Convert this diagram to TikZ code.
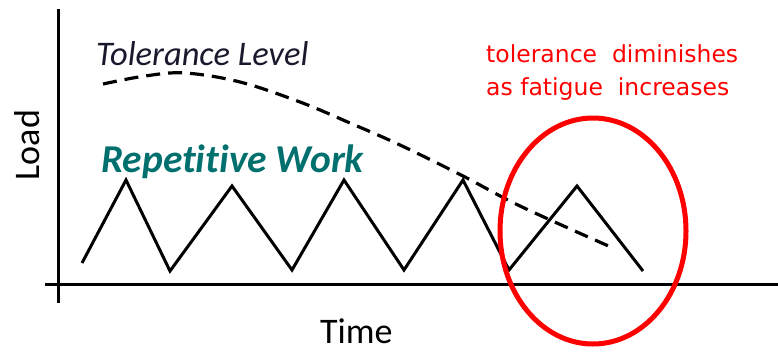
\documentclass[tikz,border=0pt]{standalone}
\usepackage{fontspec}
\usetikzlibrary{shapes.geometric}
\setmainfont{Carlito}[Ligatures={NoCommon,NoRare,NoDiscretionary}]
\newfontfamily\redfont{DejaVu Sans}
\definecolor{teal2}{RGB}{0,112,110}
\definecolor{navy2}{RGB}{25,25,45}
\definecolor{red2}{RGB}{255,0,0}
\begin{document}
\begin{tikzpicture}[x=1pt,y=-1pt,
  axis/.style={line width=3pt},
  zig/.style={line width=3pt,line join=miter},
  tol/.style={line width=3.2pt,dash pattern=on 14pt off 8pt},
  lbl/.style={inner sep=0pt,anchor=base west}]
\useasboundingbox (0,0) rectangle (778,351);
% axes
\coordinate (ytop) at (58,9);
\coordinate (ybot) at (58,303);
\coordinate (xl) at (45,284);
\coordinate (xr) at (778,284);
\draw[axis] (ytop) -- (ybot);
\draw[axis] (xl) -- (xr);
% zigzag
\coordinate (z0) at (82,263);
\coordinate (z1) at (126,180);
\coordinate (z2) at (170,271);
\coordinate (z3) at (232,186);
\coordinate (z4) at (292,270);
\coordinate (z5) at (344,180);
\coordinate (z6) at (404,270);
\coordinate (z7) at (463,180);
\coordinate (z8) at (509,270);
\coordinate (z9) at (577,186);
\coordinate (z10) at (643,271);
\draw[zig] (z0)--(z1)--(z2)--(z3)--(z4)--(z5)--(z6)--(z7)--(z8)--(z9)--(z10);
% tolerance curve
\draw[tol] plot[smooth,tension=0.6] coordinates {(103,84) (145,76) (185,73) (240,82) (300,102) (350,123) (400,145) (463,176) (520,206) (613,248)};
% ellipse
\node[draw=red2,line width=5pt,ellipse,minimum width=186pt,minimum height=226pt,inner sep=0pt] (circ) at (593,231) {};
% labels
\node[lbl,text=navy2,font=\itshape\fontsize{34.5}{38}\selectfont] (tollbl) at (96,65) {Tolerance Level};
\node[lbl,text=teal2,font=\bfseries\itshape\fontsize{39.5}{42}\selectfont] (replbl) at (101,172) {Repe{}titive Work};
\node[inner sep=0pt,rotate=90,font=\fontsize{36}{40}\selectfont] (load) at (27,145) {Load};
\node[lbl,font=\fontsize{36}{40}\selectfont] (time) at (320,343) {Time};
\node[lbl,text=red2,font=\redfont\fontsize{23.5}{30}\selectfont] (red1) at (486,62) {tolerance\ \ diminishes};
\node[lbl,text=red2,font=\redfont\fontsize{23.5}{30}\selectfont] (red2n) at (486,95) {as fatigue\ \ increases};
\end{tikzpicture}
\end{document}
